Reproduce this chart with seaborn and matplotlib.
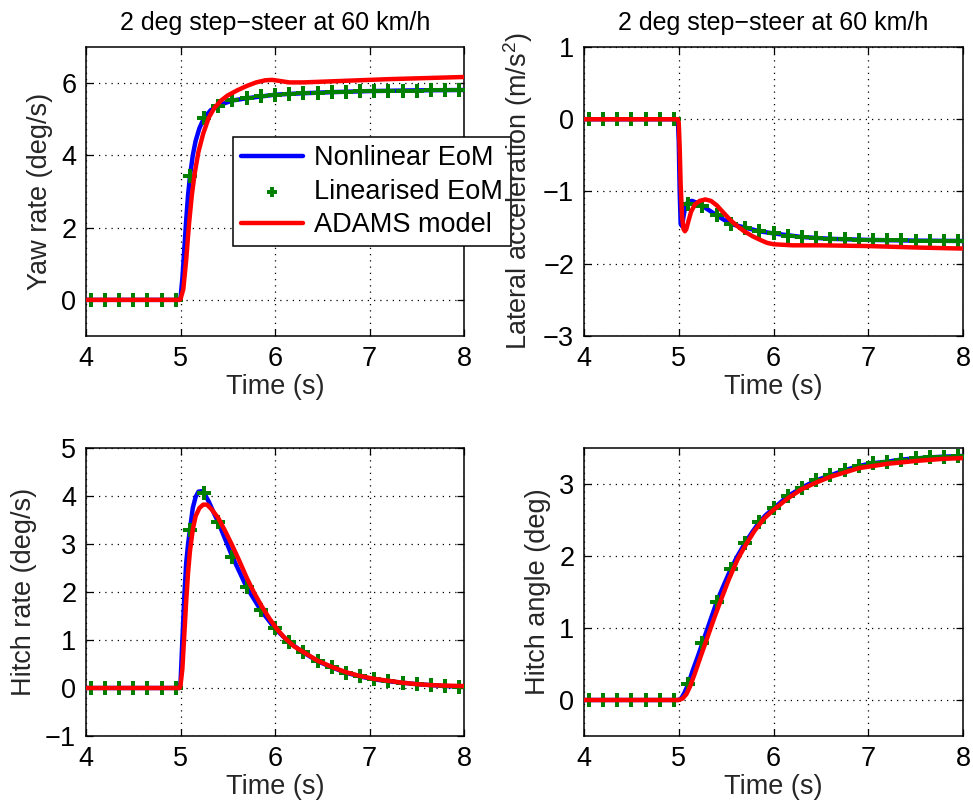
import numpy as np
import pandas as pd
import matplotlib
matplotlib.use("Agg")
import matplotlib.pyplot as plt
import seaborn as sns

# ---------------- data ----------------
title_text = "2 deg step\u2212steer at 60 km/h"
series_names = ["Nonlinear EoM", "Linearised EoM", "ADAMS model"]
x_label = "Time (s)"
y_labels = ["Yaw rate (deg/s)", r"Lateral acceleration (m/s$^2$)",
            "Hitch rate (deg/s)", "Hitch angle (deg)"]

# marker times (Linearised EoM)
t_lin = [4.05, 4.20, 4.35, 4.50, 4.65, 4.80, 4.95, 5.10, 5.25, 5.40, 5.55, 5.70,
         5.85, 6.00, 6.15, 6.30, 6.45, 6.60, 6.75, 6.90, 7.05, 7.20, 7.35, 7.50,
         7.65, 7.80, 7.95]

# ---- Yaw rate ----
yaw_lin = [0, 0, 0, 0, 0, 0, 0, 3.42, 5.04, 5.38, 5.52, 5.58, 5.63, 5.68, 5.70,
           5.72, 5.74, 5.75, 5.76, 5.77, 5.78, 5.785, 5.79, 5.795, 5.80, 5.80, 5.81]
yaw_nl_t = [4.0, 4.99, 5.0, 5.02, 5.04, 5.06, 5.08, 5.10, 5.13, 5.16, 5.20, 5.25,
            5.32, 5.40, 5.55, 5.70, 5.85, 6.00, 6.30, 6.60, 7.00, 7.50, 8.00]
yaw_nl = [0, 0, 0.05, 0.6, 1.4, 2.2, 2.9, 3.42, 4.0, 4.4, 4.75, 5.04,
          5.25, 5.38, 5.52, 5.58, 5.63, 5.68, 5.72, 5.75, 5.78, 5.80, 5.81]
yaw_ad_t = [4.0, 4.99, 5.0, 5.03, 5.06, 5.09, 5.12, 5.15, 5.19, 5.24, 5.30, 5.36,
            5.43, 5.50, 5.60, 5.70, 5.80, 5.90, 5.97, 6.05, 6.15, 6.30, 6.50,
            6.80, 7.20, 7.60, 8.00]
yaw_ad = [0, 0, 0.02, 0.3, 1.1, 2.1, 2.9, 3.5, 4.1, 4.6, 5.05, 5.32,
          5.52, 5.66, 5.80, 5.92, 6.02, 6.08, 6.09, 6.06, 6.02, 6.02, 6.04,
          6.07, 6.11, 6.14, 6.17]

# ---- Lateral acceleration ----
lat_lin = [0, 0, 0, 0, 0, 0, 0, -1.17, -1.20, -1.33, -1.45, -1.50, -1.55, -1.58,
           -1.61, -1.63, -1.645, -1.655, -1.66, -1.665, -1.67, -1.675, -1.675,
           -1.68, -1.68, -1.68, -1.685]
lat_nl_t = [4.0, 4.99, 5.0, 5.01, 5.02, 5.035, 5.05, 5.07, 5.10, 5.14, 5.20, 5.25,
            5.32, 5.40, 5.55, 5.70, 5.85, 6.00, 6.30, 6.60, 7.00, 7.50, 8.00]
lat_nl = [0, 0, -0.3, -1.0, -1.45, -1.48, -1.35, -1.2, -1.14, -1.13, -1.16, -1.20,
          -1.26, -1.33, -1.45, -1.50, -1.55, -1.58, -1.63, -1.655, -1.67, -1.68, -1.685]
lat_ad_t = [4.0, 4.99, 5.0, 5.01, 5.02, 5.035, 5.05, 5.065, 5.08, 5.10, 5.13, 5.17,
            5.22, 5.28, 5.34, 5.40, 5.47, 5.54, 5.61, 5.69, 5.78, 5.86, 5.93,
            6.00, 6.20, 6.50, 7.00, 7.50, 8.00]
lat_ad = [0, 0, -0.05, -0.4, -0.9, -1.35, -1.52, -1.55, -1.52, -1.42, -1.28, -1.18,
          -1.13, -1.11, -1.13, -1.19, -1.29, -1.39, -1.47, -1.55, -1.62, -1.67, -1.71,
          -1.73, -1.745, -1.745, -1.755, -1.775, -1.79]

# ---- Hitch rate ----
hr_lin = [0, 0, 0, 0, 0, 0, 0, 3.30, 4.06, 3.45, 2.73, 2.10, 1.62, 1.24, 0.95,
          0.74, 0.56, 0.43, 0.32, 0.24, 0.18, 0.14, 0.11, 0.08, 0.06, 0.04, 0.03]
hr_nl_t = [4.0, 4.99, 5.0, 5.02, 5.04, 5.06, 5.08, 5.10, 5.13, 5.16, 5.19, 5.22,
           5.25, 5.30, 5.35, 5.40, 5.55, 5.70, 5.85, 6.00, 6.15, 6.30, 6.45, 6.60,
           6.75, 6.90, 7.05, 7.20, 7.35, 7.50, 7.65, 7.80, 8.00]
hr_nl = [0, 0, 0.1, 1.0, 1.9, 2.6, 3.0, 3.30, 3.75, 3.98, 4.09, 4.10,
         4.06, 3.88, 3.66, 3.45, 2.73, 2.10, 1.62, 1.24, 0.95, 0.74, 0.56, 0.43,
         0.32, 0.24, 0.18, 0.14, 0.11, 0.08, 0.06, 0.04, 0.03]
hr_ad_t = [4.0, 4.99, 5.0, 5.02, 5.04, 5.06, 5.08, 5.10, 5.13, 5.16, 5.20, 5.24,
           5.28, 5.33, 5.40, 5.47, 5.54, 5.62, 5.70, 5.78, 5.86, 5.94, 6.02,
           6.10, 6.20, 6.30, 6.45, 6.60, 6.75, 6.90, 7.05, 7.20, 7.35, 7.50,
           7.65, 7.80, 8.00]
hr_ad = [0, 0, 0.05, 0.4, 1.1, 1.8, 2.4, 2.85, 3.3, 3.58, 3.75, 3.82,
         3.82, 3.72, 3.54, 3.28, 3.00, 2.66, 2.30, 1.98, 1.70, 1.45, 1.23,
         1.05, 0.87, 0.75, 0.57, 0.44, 0.33, 0.25, 0.19, 0.15, 0.11, 0.08,
         0.06, 0.05, 0.04]

# ---- Hitch angle ----
ha_lin = [0, 0, 0, 0, 0, 0, 0, 0.22, 0.79, 1.36, 1.82, 2.18, 2.47, 2.66, 2.83,
          2.95, 3.05, 3.12, 3.19, 3.25, 3.29, 3.31, 3.34, 3.355, 3.37, 3.38, 3.385]
ha_nl_t = [4.0, 5.0, 5.03, 5.06, 5.10, 5.15, 5.20, 5.25, 5.30, 5.35, 5.40, 5.47,
           5.55, 5.62, 5.70, 5.78, 5.85, 5.92, 6.00, 6.15, 6.30, 6.45, 6.60,
           6.75, 6.90, 7.05, 7.20, 7.35, 7.50, 7.65, 7.80, 8.00]
ha_nl = [0, 0, 0.03, 0.1, 0.22, 0.42, 0.60, 0.79, 0.98, 1.17, 1.36, 1.58,
         1.82, 2.00, 2.18, 2.34, 2.47, 2.57, 2.66, 2.83, 2.95, 3.05, 3.12,
         3.19, 3.25, 3.29, 3.31, 3.34, 3.355, 3.37, 3.38, 3.39]
ha_ad_t = [4.0, 5.0, 5.04, 5.08, 5.12, 5.17, 5.23, 5.30, 5.38, 5.46, 5.53, 5.62,
           5.70, 5.80, 5.90, 6.00, 6.15, 6.30, 6.45, 6.60, 6.75, 6.90, 7.20,
           7.50, 7.80, 8.00]
ha_ad = [0, 0, 0.02, 0.08, 0.19, 0.37, 0.60, 0.86, 1.16, 1.44, 1.68, 1.95,
         2.14, 2.35, 2.52, 2.64, 2.80, 2.93, 3.02, 3.10, 3.16, 3.22, 3.28,
         3.32, 3.35, 3.36]

panels = [
    dict(nl=(yaw_nl_t, yaw_nl), lin=yaw_lin, ad=(yaw_ad_t, yaw_ad),
         ylim=(-1, 7), yticks=[0, 2, 4, 6]),
    dict(nl=(lat_nl_t, lat_nl), lin=lat_lin, ad=(lat_ad_t, lat_ad),
         ylim=(-3, 1), yticks=[-3, -2, -1, 0, 1]),
    dict(nl=(hr_nl_t, hr_nl), lin=hr_lin, ad=(hr_ad_t, hr_ad),
         ylim=(-1, 5), yticks=[-1, 0, 1, 2, 3, 4, 5]),
    dict(nl=(ha_nl_t, ha_nl), lin=ha_lin, ad=(ha_ad_t, ha_ad),
         ylim=(-0.5, 3.5), yticks=[0, 1, 2, 3]),
]
x_ticks = [4, 5, 6, 7, 8]

# ---------------- style ----------------
sns.set_theme(style="white")
plt.rcParams["font.family"] = ["Liberation Sans", "DejaVu Sans"]
plt.rcParams["mathtext.fontset"] = "custom"
plt.rcParams["mathtext.rm"] = "Liberation Sans"
plt.rcParams["mathtext.it"] = "Liberation Sans:italic"
plt.rcParams["text.color"] = "black"

FS = 19.5
W, H = 973, 807
fig = plt.figure(figsize=(W / 100, H / 100), dpi=100)
fig.patch.set_facecolor("white")

def rect(l, t, r, b):
    return [l / W, 1 - b / H, (r - l) / W, (b - t) / H]

rects = [rect(86, 47, 464, 336), rect(584, 47, 963, 336),
         rect(86, 448, 464, 736), rect(584, 448, 963, 736)]

blue, green, red = "#0000ff", "#007f00", "#ff0000"
axes = []
for i, (p, rc) in enumerate(zip(panels, rects)):
    ax = fig.add_axes(rc)
    axes.append(ax)
    sns.lineplot(x=p["nl"][0], y=p["nl"][1], ax=ax, color=blue, lw=3.2,
                 sort=False, estimator=None, label=series_names[0], zorder=3)
    sns.scatterplot(x=t_lin, y=p["lin"], ax=ax, color=green, marker="P", s=105,
                    linewidth=0, label=series_names[1], zorder=4)
    sns.lineplot(x=p["ad"][0], y=p["ad"][1], ax=ax, color=red, lw=3.2,
                 sort=False, estimator=None, label=series_names[2], zorder=5)
    ax.set_xlim(4, 8)
    ax.set_ylim(*p["ylim"])
    ax.set_xticks(x_ticks)
    ax.set_yticks(p["yticks"])
    ax.grid(True, color="black", linestyle=(0, (1, 4)), linewidth=0.9)
    ax.set_axisbelow(True)
    for s in ax.spines.values():
        s.set_visible(True)
        s.set_color("black")
        s.set_linewidth(1.1)
    ax.tick_params(direction="in", length=5, width=0.9, colors="black",
                   labelsize=FS, top=True, right=True, bottom=True, left=True,
                   pad=7)
    ax.set_xlabel(x_label, fontsize=FS, labelpad=2)
    ax.set_ylabel(y_labels[i], fontsize=FS, labelpad=6)
    if i < 2:
        ax.set_title(title_text, fontsize=18, pad=12)
    if ax.get_legend() is not None:
        ax.get_legend().remove()

h, l = axes[0].get_legend_handles_labels()
leg = axes[0].legend(h, l, loc="upper left", bbox_to_anchor=(233 / W, 1 - 137 / H),
                     bbox_transform=fig.transFigure, fontsize=FS, frameon=True,
                     fancybox=False, edgecolor="black", framealpha=1,
                     handlelength=2.3, borderpad=0.3, labelspacing=0.28,
                     handletextpad=0.4, borderaxespad=0)
leg.get_frame().set_linewidth(1.1)
leg.set_zorder(10)
try:
    leg.legend_handles[1].set_sizes([55])
except Exception:
    pass

fig.savefig("out.png", dpi=100, facecolor="white")
